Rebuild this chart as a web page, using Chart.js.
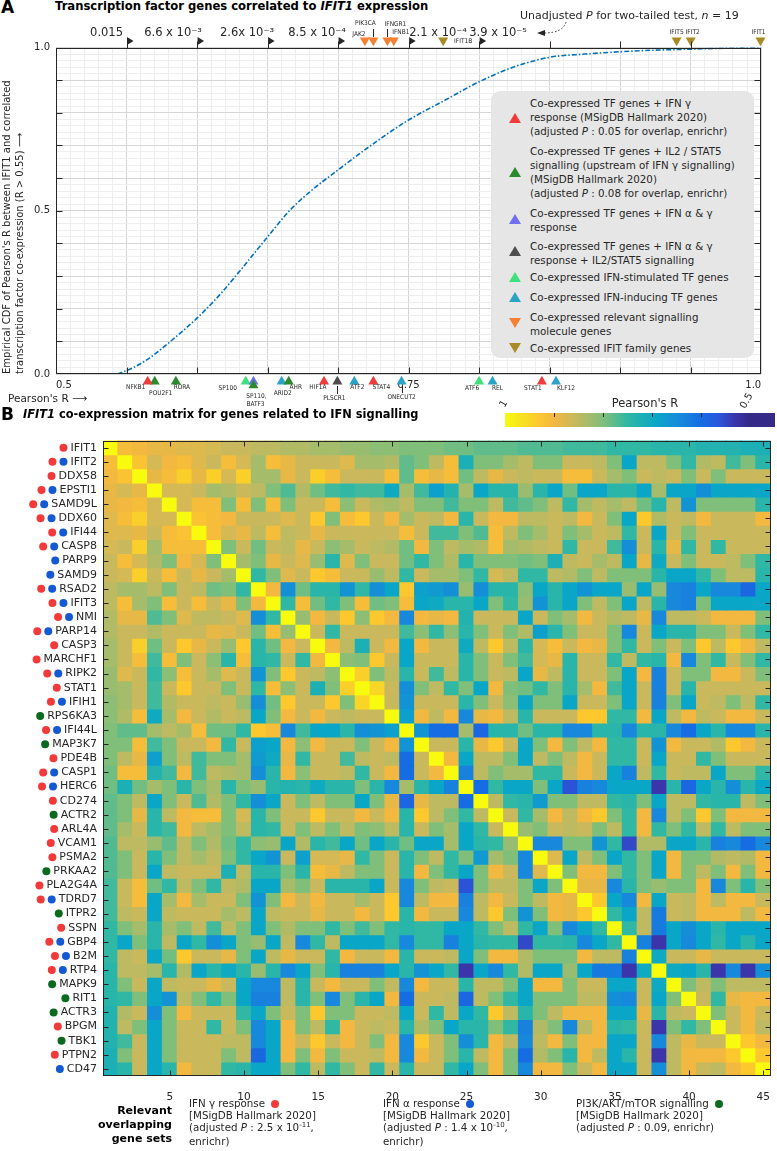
<!DOCTYPE html>
<html lang="en">
<head>
<meta charset="UTF-8">
<meta name="viewport" content="width=device-width, initial-scale=1.0">
<title>IFIT1 co-expression</title>
<style>
    body {
        margin: 0;
        background: #fff;
        font-family: "DejaVu Sans", sans-serif;
        color: #262626;
    }
    #page { position: relative; width: 777px; height: 1151px; overflow: hidden; }
    .abs { position: absolute; white-space: nowrap; }
    .panel { font-size: 17px; font-weight: bold; color: #000; line-height: 20px; }
    .ptitle { font-size: 11.6px; font-weight: bold; color: #000; line-height: 14px; }
    #wrapA { position: absolute; left: 0; top: 0; width: 777px; height: 412px; }
    #wrapB { position: absolute; left: 0; top: 428px; width: 777px; height: 680px; }
    #legendA {
        position: absolute; left: 491px; top: 91px; width: 263px; height: 267px;
        background: #e6e6e6; border-radius: 9px;
    }
    .lg-txt { position: absolute; left: 39px; font-size: 10.3px; line-height: 14px; white-space: nowrap; }
    .tri { position: absolute; width: 0; height: 0; border-left: 6px solid transparent; border-right: 6px solid transparent; }
    .tri.up { border-bottom: 10px solid; }
    .tri.down { border-top: 10px solid; }
    #cbar { position: absolute; left: 505px; top: 413px; width: 270px; height: 14px; }
    .cbtick { position: absolute; top: 413px; width: 1px; height: 4px; background: #262626; }
    .setleg { font-size: 10.3px; line-height: 12px; }
    .dot { display: inline-block; width: 8px; height: 8px; border-radius: 50%; margin-left: 3px; vertical-align: -0.5px; }
    .sup { font-size: 7px; position: relative; top: -4px; }
</style>
</head>
<body>
<div id="page">
    <div class="abs panel" style="left:1px; top:-3px">A</div>
    <div class="abs ptitle" style="left:55px; top:-1px">Transcription factor genes correlated to <i>IFIT1</i> expression</div>

    <div id="wrapA"><canvas id="cdfChart"></canvas></div>
    <div id="legendA"></div>
    <div class="abs" style="left:8px; top:391px; font-size:10.5px; line-height:14px">Pearson's R ⟶</div>

    <div class="abs panel" style="left:1px; top:404px">B</div>
    <div class="abs ptitle" style="left:23px; top:407px; font-size:11.4px"><i>IFIT1</i> co-expression matrix for genes related to IFN signalling</div>
    <div class="abs" style="left:645px; top:396px; font-size:11.5px; line-height:14px; transform:translateX(-50%)">Pearson's R</div>
    <div class="abs" style="left:500px; top:398px; font-size:10px; transform:rotate(-60deg)">1</div>
    <div class="abs" style="left:738px; top:395px; font-size:10px; transform:rotate(-60deg)">0.5</div>
    <div id="cbar"></div>

    <div id="wrapB"><canvas id="corrChart"></canvas></div>

    <div class="abs" style="right:605px; top:1104px; font-size:11px; font-weight:bold; line-height:14px; text-align:right; color:#000">Relevant<br>overlapping<br>gene sets</div>
    <div class="abs setleg" style="left:189px; top:1097px">IFN γ response <span class="dot" style="background:#f23a3a"></span><br>[MSigDB Hallmark 2020]<br>(adjusted <i>P</i> : 2.5 x 10<span class="sup">-11</span>,<br>enrichr)</div>
    <div class="abs setleg" style="left:383px; top:1097px">IFN α response <span class="dot" style="background:#1458d2"></span><br>[MSigDB Hallmark 2020]<br>(adjusted <i>P</i> : 1.4 x 10<span class="sup">-10</span>,<br>enrichr)</div>
    <div class="abs setleg" style="left:576px; top:1097px">PI3K/AKT/mTOR signalling <span class="dot" style="background:#0c6a1e"></span><br>[MSigDB Hallmark 2020]<br>(adjusted <i>P</i> : 0.09, enrichr)</div>
</div>

<script src="https://cdn.jsdelivr.net/npm/chart.js"></script>
<script>
    // ---------- panel A data ----------
    const cdfR = [0.5437, 0.555, 0.566, 0.585, 0.600, 0.617, 0.631, 0.650, 0.666, 0.680, 0.700, 0.722,
                  0.750, 0.776, 0.800, 0.825, 0.850, 0.875, 0.900, 0.925, 0.950, 0.975, 1.000];
    const cdfF = [0.000, 0.020, 0.048, 0.114, 0.171, 0.247, 0.319, 0.420, 0.502, 0.558, 0.625, 0.696,
                  0.778, 0.839, 0.895, 0.941, 0.970, 0.980, 0.987, 0.992, 0.995, 0.998, 1.000];

    const pTickR = [0.55, 0.60, 0.65, 0.70, 0.75, 0.80];
    const pTickText = ['0.015', '6.6 x 10⁻³', '2.6x 10⁻³', '8.5 x 10⁻⁴', '2.1 x 10⁻⁴', '3.9 x 10⁻⁵'];

    // TF genes (below the axis), group index into groupLabels
    const tfGenes = ['NFKB1', 'POU2F1', 'RORA', 'SP100', 'SP110', 'BATF3', 'ARID2', 'AHR', 'HIF1A',
                     'PLSCR1', 'ATF2', 'STAT4', 'ONECUT2', 'ATF6', 'REL', 'STAT1', 'KLF12'];
    const tfR = [0.565, 0.570, 0.585, 0.6345, 0.640, 0.640, 0.660, 0.665, 0.690,
                 0.6995, 0.7115, 0.725, 0.745, 0.800, 0.8095, 0.8445, 0.8545];
    const tfGroup = [0, 1, 1, 4, 2, 1, 5, 1, 0, 3, 5, 0, 5, 4, 5, 0, 5];

    // signalling / IFIT genes (above the axis)
    const sigGenes = ['JAK2', 'PIK3CA', 'IFNGR1', 'IFNB1', 'IFIT1B', 'IFIT5', 'IFIT2', 'IFIT1'];
    const sigR = [0.719, 0.725, 0.735, 0.7395, 0.7745, 0.940, 0.950, 0.9995];
    const sigGroup = [6, 6, 6, 6, 7, 7, 7, 7];

    const groupLabels = [
        ['Co-expressed TF genes + IFN γ', 'response (MSigDB Hallmark 2020)', '(adjusted <i>P</i> : 0.05 for overlap, enrichr)'],
        ['Co-expressed TF genes + IL2 / STAT5', 'signalling (upstream of IFN γ signalling)', '(MSigDB Hallmark 2020)', '(adjusted <i>P</i> : 0.08 for overlap, enrichr)'],
        ['Co-expressed TF genes + IFN α &amp; γ', 'response'],
        ['Co-expressed TF genes + IFN α &amp; γ', 'response + IL2/STAT5 signalling'],
        ['Co-expressed IFN-stimulated TF genes'],
        ['Co-expressed IFN-inducing TF genes'],
        ['Co-expressed relevant signalling', 'molecule genes'],
        ['Co-expressed IFIT family genes']
    ];

    // ---------- panel B data ----------
    const genes = ['IFIT1', 'IFIT2', 'DDX58', 'EPSTI1', 'SAMD9L', 'DDX60', 'IFI44', 'CASP8', 'PARP9', 'SAMD9',
                   'RSAD2', 'IFIT3', 'NMI', 'PARP14', 'CASP3', 'MARCHF1', 'RIPK2', 'STAT1', 'IFIH1', 'RPS6KA3',
                   'IFI44L', 'MAP3K7', 'PDE4B', 'CASP1', 'HERC6', 'CD274', 'ACTR2', 'ARL4A', 'VCAM1', 'PSMA2',
                   'PRKAA2', 'PLA2G4A', 'TDRD7', 'ITPR2', 'SSPN', 'GBP4', 'B2M', 'RTP4', 'MAPK9', 'RIT1',
                   'ACTR3', 'BPGM', 'TBK1', 'PTPN2', 'CD47'];
    // r = IFN gamma response, b = IFN alpha response, g = PI3K/AKT/mTOR signalling
    const geneSets = ['r', 'rb', 'r', 'rb', 'rb', 'rb', 'rb', 'rb', 'b', 'b',
                      'rb', 'rb', 'rb', 'rb', 'r', 'r', 'rb', 'r', 'rb', 'g',
                      'rb', 'g', 'r', 'rb', 'rb', 'r', 'g', 'r', 'r', 'r',
                      'g', 'r', 'rb', 'g', 'r', 'rb', 'rb', 'rb', 'g', 'g',
                      'g', 'r', 'g', 'r', 'b'];

    // Pearson's R x 100, lower triangle (row i holds columns 1..i-1)
    const corrLower = [
        [],
        [91],
        [90, 92],
        [89, 87, 89],
        [89, 90, 91, 87],
        [88, 91, 94, 87, 87],
        [88, 88, 89, 86, 91, 92],
        [87, 86, 94, 83, 91, 91, 91],
        [86, 91, 87, 84, 80, 90, 87, 80],
        [86, 87, 94, 86, 91, 86, 89, 86, 83],
        [85, 83, 83, 85, 80, 86, 85, 79, 80, 75],
        [85, 91, 83, 80, 91, 86, 91, 86, 89, 80, 90],
        [84, 89, 89, 77, 80, 88, 85, 85, 86, 88, 65, 75],
        [84, 86, 86, 84, 86, 86, 86, 89, 88, 86, 79, 91, 82],
        [83, 86, 94, 79, 86, 93, 89, 86, 82, 93, 74, 79, 90, 86],
        [83, 86, 91, 76, 91, 80, 86, 81, 74, 91, 74, 75, 86, 75, 90],
        [82, 88, 86, 75, 81, 91, 86, 83, 88, 86, 66, 80, 93, 86, 85, 81],
        [82, 83, 86, 76, 86, 93, 86, 86, 80, 86, 75, 91, 81, 86, 72, 80, 94],
        [81, 83, 86, 76, 84, 86, 86, 85, 86, 82, 65, 79, 93, 86, 86, 93, 80, 95],
        [81, 84, 91, 70, 83, 90, 86, 84, 86, 85, 69, 80, 90, 86, 90, 86, 85, 86, 86],
        [80, 78, 78, 83, 85, 83, 91, 79, 79, 75, 93, 91, 64, 76, 69, 69, 74, 65, 66, 68],
        [80, 80, 91, 76, 80, 86, 86, 90, 75, 86, 68, 69, 90, 81, 90, 86, 86, 80, 86, 90, 66],
        [80, 85, 89, 68, 80, 85, 76, 80, 80, 83, 67, 70, 89, 75, 86, 86, 76, 85, 86, 85, 60, 86],
        [79, 91, 91, 73, 76, 90, 76, 85, 84, 83, 65, 74, 90, 81, 86, 86, 85, 75, 86, 90, 60, 86, 90],
        [79, 72, 79, 83, 80, 74, 80, 83, 74, 80, 82, 74, 73, 74, 70, 74, 74, 80, 74, 64, 83, 74, 69, 63],
        [78, 80, 85, 69, 80, 86, 77, 84, 80, 75, 65, 69, 86, 80, 85, 80, 80, 69, 80, 89, 59, 89, 85, 85, 60],
        [78, 80, 89, 74, 85, 90, 91, 91, 80, 87, 74, 80, 86, 86, 93, 86, 86, 90, 86, 90, 74, 93, 85, 80, 75, 85],
        [78, 83, 86, 74, 76, 90, 85, 83, 80, 85, 74, 75, 86, 80, 85, 80, 85, 80, 81, 85, 74, 86, 80, 83, 69, 75, 86],
        [77, 85, 85, 82, 78, 85, 80, 84, 79, 75, 81, 82, 69, 84, 74, 76, 69, 79, 69, 74, 79, 69, 69, 83, 69, 74, 75, 82],
        [77, 80, 86, 74, 80, 85, 83, 85, 80, 75, 69, 66, 86, 68, 87, 87, 89, 75, 80, 86, 74, 80, 85, 75, 80, 67, 83, 80, 64],
        [77, 80, 86, 69, 85, 86, 86, 86, 72, 85, 74, 74, 80, 74, 91, 89, 85, 80, 80, 86, 74, 90, 80, 75, 69, 80, 90, 86, 64, 88],
        [76, 86, 91, 79, 75, 85, 80, 75, 85, 84, 69, 69, 83, 80, 86, 74, 74, 74, 69, 86, 64, 80, 85, 86, 56, 80, 85, 85, 80, 69, 80],
        [76, 86, 91, 69, 83, 90, 83, 86, 86, 80, 66, 80, 90, 86, 90, 86, 86, 83, 86, 93, 64, 85, 90, 90, 63, 85, 90, 86, 80, 85, 90, 89],
        [76, 85, 86, 69, 85, 86, 86, 86, 83, 85, 69, 85, 86, 86, 89, 86, 86, 90, 86, 93, 74, 90, 86, 86, 64, 85, 93, 80, 66, 80, 90, 89, 93],
        [75, 80, 83, 74, 83, 80, 85, 76, 85, 80, 69, 80, 84, 80, 80, 75, 80, 76, 80, 75, 74, 75, 75, 69, 69, 75, 80, 85, 75, 69, 80, 64, 69, 75],
        [75, 69, 80, 74, 85, 69, 75, 65, 69, 80, 82, 69, 85, 64, 75, 85, 69, 69, 69, 75, 64, 75, 75, 63, 69, 74, 75, 75, 55, 75, 75, 74, 64, 69, 75],
        [75, 85, 86, 69, 79, 93, 86, 86, 89, 80, 69, 85, 89, 86, 86, 75, 90, 86, 86, 90, 74, 86, 86, 85, 69, 80, 90, 90, 84, 80, 80, 80, 90, 85, 85, 63],
        [74, 85, 85, 83, 74, 84, 69, 74, 70, 74, 82, 74, 64, 69, 80, 74, 63, 63, 63, 69, 74, 66, 69, 75, 53, 69, 64, 75, 84, 69, 69, 82, 69, 62, 62, 53, 70],
        [74, 80, 86, 69, 85, 86, 86, 89, 86, 69, 64, 64, 85, 74, 86, 90, 86, 86, 80, 85, 64, 90, 86, 86, 74, 85, 85, 80, 69, 90, 90, 80, 86, 86, 69, 69, 86, 70],
        [74, 75, 80, 69, 66, 85, 80, 75, 80, 69, 63, 63, 85, 74, 80, 64, 80, 74, 69, 90, 60, 86, 86, 85, 59, 85, 80, 75, 69, 80, 80, 80, 85, 85, 65, 64, 86, 69, 80],
        [73, 84, 86, 65, 80, 90, 86, 86, 86, 75, 69, 80, 86, 80, 93, 80, 80, 86, 86, 85, 69, 86, 75, 85, 69, 75, 93, 85, 74, 80, 85, 90, 90, 90, 69, 69, 89, 74, 85, 86],
        [73, 85, 80, 69, 80, 86, 86, 75, 86, 80, 64, 69, 90, 80, 85, 75, 90, 86, 85, 86, 74, 84, 80, 69, 74, 74, 80, 75, 63, 84, 80, 64, 85, 90, 74, 75, 86, 53, 80, 75, 80],
        [73, 76, 86, 69, 80, 86, 86, 86, 85, 85, 64, 69, 90, 86, 93, 86, 90, 86, 80, 90, 64, 93, 86, 80, 65, 74, 90, 85, 64, 85, 90, 80, 90, 90, 69, 69, 86, 64, 85, 89, 86, 86],
        [72, 80, 86, 69, 80, 86, 86, 86, 80, 85, 59, 69, 90, 80, 90, 80, 86, 86, 85, 90, 64, 90, 86, 80, 74, 85, 90, 80, 60, 84, 80, 74, 90, 85, 69, 74, 86, 53, 85, 90, 90, 90, 93],
        [72, 74, 86, 69, 74, 90, 86, 86, 75, 74, 69, 69, 80, 75, 85, 75, 80, 86, 75, 86, 74, 86, 86, 75, 69, 80, 90, 80, 64, 90, 90, 80, 86, 90, 69, 69, 86, 65, 85, 90, 86, 85, 90, 93]
    ];

    // ---------- styles ----------
    Chart.defaults.font.family = '"DejaVu Sans", sans-serif';
    Chart.defaults.color = '#262626';

    const groupColors = ['#ee3b3b', '#2b8a2b', '#6f6ff0', '#4d4d4d', '#3ee07c', '#2aa3c6', '#f57f32', '#a88b25'];
    const groupDown = [false, false, false, false, false, false, true, true];
    const setColors = { r: '#f23a3a', b: '#1458d2', g: '#0c6a1e' };

    // parula-like colour map, Pearson's R -> colour
    const cmapStops = [
        [0.50, [53, 42, 135]], [0.53, [60, 52, 170]], [0.565, [40, 88, 222]], [0.60, [22, 108, 226]],
        [0.64, [24, 136, 220]], [0.69, [10, 166, 200]], [0.75, [48, 184, 164]], [0.80, [128, 191, 122]],
        [0.86, [202, 185, 92]], [0.90, [242, 184, 64]], [0.93, [252, 200, 46]], [0.97, [246, 228, 30]],
        [1.00, [249, 251, 14]]
    ];
    function corrColor(v) {
        if (v <= cmapStops[0][0]) return 'rgb(' + cmapStops[0][1].join(',') + ')';
        for (let i = 1; i < cmapStops.length; i++) {
            const [v1, c1] = cmapStops[i];
            if (v <= v1) {
                const [v0, c0] = cmapStops[i - 1];
                const t = (v - v0) / (v1 - v0);
                return 'rgb(' + c0.map((c, k) => Math.round(c + (c1[k] - c) * t)).join(',') + ')';
            }
        }
        return 'rgb(' + cmapStops[cmapStops.length - 1][1].join(',') + ')';
    }
    function corrAt(r, c) {
        if (r === c) return 1;
        return (r > c ? corrLower[r][c] : corrLower[c][r]) / 100;
    }

    // colour bar: R = 1 at 505px, R = 0.5 at 750px, bar runs to 775px
    const cbStops = cmapStops.slice().reverse().map(([v, c]) =>
        'rgb(' + c.join(',') + ') ' + ((1 - v) / 0.5 * 245 / 270 * 100).toFixed(2) + '%');
    cbStops.push('rgb(' + cmapStops[0][1].join(',') + ') 100%');
    document.getElementById('cbar').style.background = 'linear-gradient(to right, ' + cbStops.join(', ') + ')';
    [0.9, 0.8, 0.7, 0.6].forEach(v => {
        const t = document.createElement('div');
        t.className = 'cbtick';
        t.style.left = (505 + (1 - v) / 0.5 * 245) + 'px';
        document.getElementById('page').appendChild(t);
    });

    // legend of panel A
    const legendFirstLine = [12, 60, 122, 155, 186, 206, 226, 257];
    const legendMarkY = [27, 81, 128, 160, 186, 206, 232, 257];
    const legendA = document.getElementById('legendA');
    groupLabels.forEach((lines, g) => {
        const tri = document.createElement('div');
        tri.className = 'tri ' + (groupDown[g] ? 'down' : 'up');
        tri.style.color = groupColors[g];
        tri.style.left = '18px';
        tri.style.top = (legendMarkY[g] - 5) + 'px';
        legendA.appendChild(tri);
        const txt = document.createElement('div');
        txt.className = 'lg-txt';
        txt.style.top = (legendFirstLine[g] - 7) + 'px';
        txt.innerHTML = lines.join('<br>');
        legendA.appendChild(txt);
    });

    // ---------- panel A chart ----------
    const BELOW_Y = -0.023, STACK_DY = 0.012, ABOVE_Y = 1.0214;
    const labelPos = {
        NFKB1: { dx: -12, y: 387 }, POU2F1: { dx: 6, y: 393 }, RORA: { dx: 6, y: 387 },
        SP100: { dx: -18, y: 388 }, SP110: { dx: 3, y: 396, text: 'SP110,' }, BATF3: { dx: 2, y: 404 },
        ARID2: { dx: 1, y: 393 }, AHR: { dx: 7, y: 387 }, HIF1A: { dx: -6, y: 387 },
        PLSCR1: { dx: -3, y: 398, lead: [386, 394] }, ATF2: { dx: 3, y: 387 }, STAT4: { dx: 8, y: 387 },
        ONECUT2: { dx: 0, y: 397, lead: [386, 393] }, ATF6: { dx: -7, y: 388 }, REL: { dx: 5, y: 388 },
        STAT1: { dx: -9, y: 388 }, KLF12: { dx: 10, y: 388 },
        JAK2: { dx: -6, y: 34 }, PIK3CA: { dx: -8, y: 23, lead: [29, 37] },
        IFNGR1: { dx: 8, y: 24, lead: [29, 37] }, IFNB1: { dx: 7, y: 32 },
        IFIT1B: { dx: 20, y: 41 }, IFIT5: { dx: 0, y: 32 }, IFIT2: { dx: 2, y: 32 }, IFIT1: { dx: -2, y: 32 }
    };
    const pLabelDx = [-20, -24, -20.5, -21, 29.5, 19];

    const markerSets = groupColors.map((color, g) => {
        const pts = [];
        tfGenes.forEach((name, i) => {
            if (tfGroup[i] !== g) return;
            const stack = tfR.slice(0, i).filter(r => r === tfR[i]).length;
            pts.push({ x: tfR[i], y: BELOW_Y - stack * STACK_DY });
        });
        sigGenes.forEach((name, i) => {
            if (sigGroup[i] === g) pts.push({ x: sigR[i], y: ABOVE_Y });
        });
        return {
            type: 'scatter', data: pts, clip: false,
            pointStyle: 'triangle', pointRotation: groupDown[g] ? 180 : 0,
            pointRadius: 5.8, pointBackgroundColor: color,
            pointBorderWidth: 10, pointBorderColor: 'rgba(0,0,0,0)'
        };
    });

    const panelAExtras = {
        id: 'panelAExtras',
        afterDraw(chart) {
            const { ctx, chartArea: a, scales: { x, y } } = chart;
            ctx.save();
            ctx.strokeStyle = '#262626';
            ctx.lineWidth = 1;
            const L = Math.round(a.left) + 0.5, R = Math.round(a.right) - 0.5;
            const T = Math.round(a.top) + 0.5, B = Math.round(a.bottom) - 0.5;
            ctx.strokeRect(L, T, R - L, B - T);
            ctx.beginPath();
            for (let k = 11; k <= 19; k++) {
                const px = Math.round(x.getPixelForValue(k * 0.05)) + 0.5;
                ctx.moveTo(px, B); ctx.lineTo(px, B - 6);
                ctx.moveTo(px, T); ctx.lineTo(px, T - 7);
            }
            for (let k = 1; k <= 9; k++) {
                const py = Math.round(y.getPixelForValue(k * 0.1)) + 0.5;
                ctx.moveTo(L, py); ctx.lineTo(L + 6, py);
                ctx.moveTo(R, py); ctx.lineTo(R - 6, py);
            }
            ctx.stroke();

            // p-value labels on the top axis
            ctx.fillStyle = '#262626';
            ctx.font = '11.5px "DejaVu Sans"';
            ctx.textAlign = 'center';
            ctx.textBaseline = 'middle';
            pTickR.forEach((v, i) => {
                const px = x.getPixelForValue(v);
                ctx.fillText(pTickText[i], px + pLabelDx[i], 33);
                ctx.beginPath();
                ctx.moveTo(px + 0.5, 37); ctx.lineTo(px + 0.5, 45); ctx.lineTo(px + 7, 41);
                ctx.closePath();
                ctx.fill();
            });

            // gene labels
            ctx.font = '6.5px "DejaVu Sans Condensed", "DejaVu Sans"';
            const drawGene = (name, r) => {
                const p = labelPos[name];
                const px = x.getPixelForValue(r);
                ctx.fillText(p.text || name, px + p.dx, p.y);
                if (p.lead) {
                    ctx.beginPath();
                    ctx.moveTo(Math.round(px) + 0.5, p.lead[0]);
                    ctx.lineTo(Math.round(px) + 0.5, p.lead[1]);
                    ctx.stroke();
                }
            };
            tfGenes.forEach((n, i) => drawGene(n, tfR[i]));
            sigGenes.forEach((n, i) => drawGene(n, sigR[i]));

            // note with dotted arrow
            ctx.textAlign = 'left';
            let tx = 520;
            [['Unadjusted ', false], ['P', true], [' for two-tailed test, ', false], ['n', true], [' = 19', false]]
                .forEach(([s, it]) => {
                    ctx.font = (it ? 'italic ' : '') + '11px "DejaVu Sans"';
                    ctx.fillText(s, tx, 16);
                    tx += ctx.measureText(s).width;
                });
            ctx.setLineDash([1.5, 2]);
            ctx.beginPath();
            ctx.moveTo(566, 22);
            ctx.quadraticCurveTo(563, 33, 544, 33);
            ctx.stroke();
            ctx.setLineDash([]);
            ctx.beginPath();
            ctx.moveTo(537, 33); ctx.lineTo(545, 30); ctx.lineTo(545, 36);
            ctx.closePath();
            ctx.fill();
            ctx.restore();
        }
    };

    new Chart(document.getElementById('cdfChart'), {
        type: 'scatter',
        data: {
            datasets: [{
                type: 'line',
                data: cdfR.map((r, i) => ({ x: r, y: cdfF[i] })),
                borderColor: '#0072bd',
                borderWidth: 1.6,
                borderDash: [5, 2, 1.5, 2],
                pointRadius: 0,
                cubicInterpolationMode: 'monotone',
                fill: false
            }].concat(markerSets)
        },
        options: {
            responsive: true,
            maintainAspectRatio: false,
            animation: false,
            layout: { padding: { left: 0, right: 7, top: 47.5, bottom: 0 } },
            plugins: { legend: { display: false }, tooltip: { enabled: false } },
            scales: {
                x: {
                    type: 'linear', min: 0.5, max: 1,
                    afterFit: s => { s.height = 38; },
                    ticks: {
                        stepSize: 0.01, autoSkip: false, maxRotation: 0, align: 'inner', padding: 5,
                        font: { size: 10 },
                        callback: v => {
                            const k = Math.round(v * 100);
                            return k === 50 ? '0.5' : k === 75 ? '0.75' : k === 100 ? '1.0' : '';
                        }
                    },
                    grid: {
                        drawTicks: false,
                        color: c => Math.round(c.tick.value * 100) % 5 === 0 ? '#d6d6d6' : '#eeeeee'
                    },
                    border: { display: false }
                },
                y: {
                    min: 0, max: 1,
                    afterFit: s => { s.width = 56; },
                    ticks: {
                        stepSize: 0.02, autoSkip: false, padding: 6, font: { size: 10 },
                        callback: v => {
                            const k = Math.round(v * 50);
                            return k === 0 ? '0.0' : k === 25 ? '0.5' : k === 50 ? '1.0' : '';
                        }
                    },
                    grid: {
                        drawTicks: false,
                        color: c => Math.round(c.tick.value * 50) % 5 === 0 ? '#d6d6d6' : '#eeeeee'
                    },
                    border: { display: false },
                    title: {
                        display: true,
                        align: 'start',
                        text: ["Empirical CDF of Pearson's R between IFIT1 and correlated",
                               'transcription factor co-expression (R > 0.55) ⟶'],
                        font: { size: 10, lineHeight: 1.3 },
                        padding: { top: 0.5, bottom: 0 }
                    }
                }
            }
        },
        plugins: [panelAExtras]
    });

    // ---------- panel B chart ----------
    const heatExtras = {
        id: 'heatExtras',
        afterDraw(chart) {
            const { ctx, chartArea: a, scales: { x, y } } = chart;
            ctx.save();
            ctx.strokeStyle = '#262626';
            ctx.lineWidth = 1;
            const L = Math.round(a.left) + 0.5, R = Math.round(a.right) - 0.5;
            const T = Math.round(a.top) + 0.5, B = Math.round(a.bottom) - 0.5;
            ctx.strokeRect(L, T, R - L, B - T);
            ctx.beginPath();
            genes.forEach((g, i) => {
                const py = Math.round(y.getPixelForValue(i + 1)) + 0.5;
                ctx.moveTo(L, py); ctx.lineTo(L + 5, py);
                ctx.moveTo(R, py); ctx.lineTo(R - 5, py);
                if ((i + 1) % 5 === 0) {
                    const px = Math.round(x.getPixelForValue(i)) + 0.5;
                    ctx.moveTo(px, B); ctx.lineTo(px, B - 5);
                    ctx.moveTo(px, T); ctx.lineTo(px, T + 5);
                }
            });
            ctx.stroke();

            // gene-set dots left of each row label
            ctx.font = '11px "DejaVu Sans"';
            genes.forEach((g, i) => {
                const py = y.getPixelForValue(i + 1);
                let cx = a.left - 6 - ctx.measureText(g).width - 7;
                geneSets[i].split('').reverse().forEach(s => {
                    ctx.fillStyle = setColors[s];
                    ctx.beginPath();
                    ctx.arc(cx, py, 4, 0, Math.PI * 2);
                    ctx.fill();
                    cx -= 11;
                });
            });
            ctx.restore();
        }
    };

    new Chart(document.getElementById('corrChart'), {
        type: 'bar',
        data: {
            labels: genes.map((g, i) => String(i + 1)),
            datasets: genes.map((g, r) => ({
                label: g,
                data: genes.map(() => [r + 0.5, r + 1.5]),
                backgroundColor: genes.map((h, c) => corrColor(corrAt(r, c)))
            }))
        },
        options: {
            responsive: true,
            maintainAspectRatio: false,
            animation: false,
            layout: { padding: { left: 0, right: 5, top: 8, bottom: 0 } },
            datasets: {
                bar: { grouped: false, barPercentage: 1, categoryPercentage: 1, borderWidth: 0, inflateAmount: 0.5 }
            },
            plugins: { legend: { display: false }, tooltip: { enabled: false } },
            scales: {
                x: {
                    afterFit: s => { s.height = 32; },
                    ticks: {
                        autoSkip: false, maxRotation: 0, padding: 7, font: { size: 10.5 },
                        callback: (v, i) => (i + 1) % 5 === 0 ? String(i + 1) : ''
                    },
                    grid: { display: false },
                    border: { display: false }
                },
                y: {
                    type: 'linear', min: 0.5, max: 45.5, reverse: true,
                    afterFit: s => { s.width = 103; },
                    afterBuildTicks: s => { s.ticks = genes.map((g, i) => ({ value: i + 1 })); },
                    ticks: {
                        autoSkip: false, padding: 6, font: { size: 11 },
                        callback: v => genes[Math.round(v) - 1]
                    },
                    grid: { display: false, drawTicks: false },
                    border: { display: false }
                }
            }
        },
        plugins: [heatExtras]
    });
</script>
</body>
</html>
